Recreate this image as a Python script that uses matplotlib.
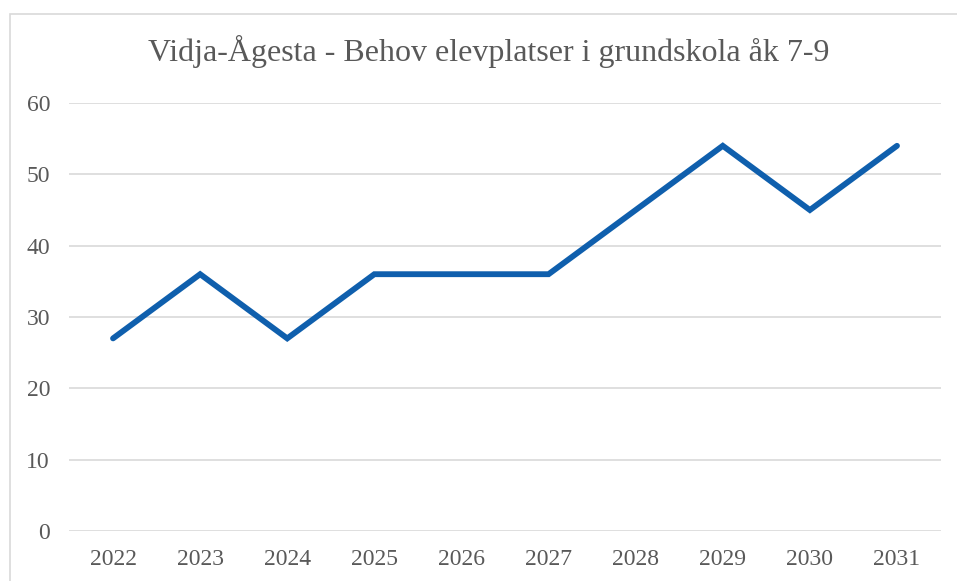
import matplotlib.pyplot as plt
from matplotlib.patches import Rectangle

years = ['2022', '2023', '2024', '2025', '2026', '2027', '2028', '2029', '2030', '2031']
behov = [27, 36, 27, 36, 36, 36, 45, 54, 45, 54]
yticks = [0, 10, 20, 30, 40, 50, 60]

plt.rcParams['font.family'] = ['Liberation Serif', 'DejaVu Serif']

fig = plt.figure(figsize=(9.57, 5.81), dpi=100)
ax = fig.add_axes([0.0726, 0.0861, 0.9102, 0.7366])

x = range(len(years))
ax.plot(x, behov, color='#0F5FAD', linewidth=4.2, solid_capstyle='round', solid_joinstyle='miter')

ax.set_xlim(-0.5, len(years) - 0.5)
ax.set_ylim(0, 60)
ax.set_xticks(list(x))
ax.set_xticklabels(years)
ax.set_yticks(yticks)
ax.tick_params(axis='both', length=0, labelsize=17, labelcolor='#595959')
ax.tick_params(axis='x', pad=13)
ax.tick_params(axis='y', pad=14)
ax.grid(axis='y', color='#D9D9D9', linewidth=1.2)
ax.set_axisbelow(True)
for s in ax.spines.values():
    s.set_visible(False)

fig.text(489 / 957, 1 - 51 / 581, 'Vidja-Ågesta - Behov elevplatser i grundskola åk 7-9',
         ha='center', va='center', fontsize=23, color='#595959')

# chart frame
fig.patches.append(Rectangle((9.5 / 957, -0.05), 1.1, 1.05 - 13.5 / 581, transform=fig.transFigure,
                             fill=False, edgecolor='#D9D9D9', linewidth=1.2))

fig.savefig('out.png', dpi=100)
